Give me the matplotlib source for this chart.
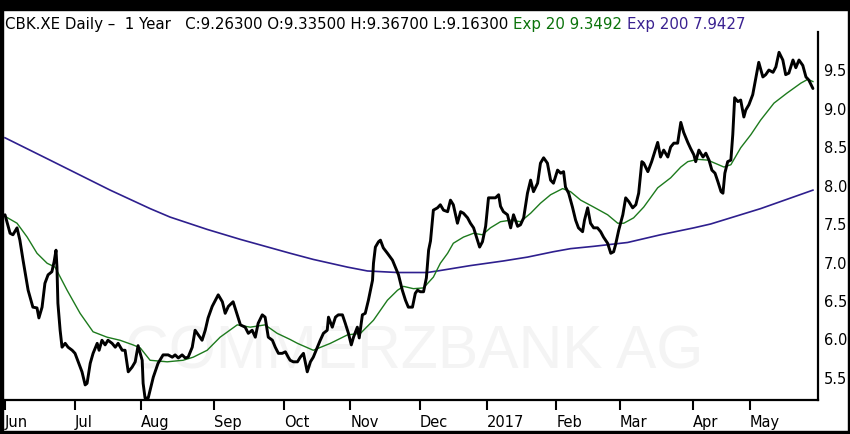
import matplotlib
matplotlib.use("Agg")
import matplotlib.pyplot as plt
import pandas as pd
from matplotlib.patches import Rectangle

# ---------------- data ----------------
title_text = "CBK.XE Daily \u2013  1 Year   C:9.26300 O:9.33500 H:9.36700 L:9.16300"
ema20_label = "Exp 20 9.3492"
ema200_label = "Exp 200 7.9427"
watermark = "COMMERZBANK AG"

# trading calendar (Xetra), one point per trading day index
start_date = "2016-06-01"
end_date = "2017-05-30"
holidays = ["2016-12-26", "2017-04-14", "2017-04-17", "2017-05-01"]

# close price (trading-day index, value)
price_day = [0.0, 0.6, 1.6, 2.5, 3.8, 4.7, 5.7, 7.3, 8.8, 10.1, 10.7, 11.7, 12.6, 13.6, 14.8,
             15.5, 16.1, 16.4, 16.7, 17.4, 18.0, 19.0, 19.9, 21.2, 22.1, 23.1, 24.3, 25.3, 25.9,
             26.9, 27.8, 29.1, 29.7, 30.6, 31.6, 32.5, 33.8, 34.8, 35.7, 37.0, 37.9, 38.9, 40.1,
             41.1, 42.0, 43.3, 43.6, 44.2, 45.2, 46.8, 48.3, 49.9, 51.5, 52.8, 53.7, 54.7, 55.9,
             56.9, 57.8, 59.1, 60.0, 61.0, 62.2, 63.2, 64.1, 65.4, 66.4, 67.3, 68.6, 69.5, 70.5,
             72.0, 73.3, 74.3, 75.8, 76.8, 78.0, 79.0, 79.9, 81.2, 82.1, 83.1, 84.4, 85.3, 86.3,
             87.5, 88.5, 89.4, 90.0, 91.0, 92.3, 93.2, 94.2, 95.4, 96.4, 97.3, 98.6, 99.5, 100.5,
             101.7, 102.1, 103.3, 104.3, 105.2, 106.5, 107.4, 108.4, 109.3, 110.0, 111.2, 111.8,
             112.8, 113.7, 114.7, 116.0, 116.3, 116.9, 117.9, 118.5, 119.4, 120.7, 122.3, 123.2,
             124.2, 125.4, 126.4, 127.3, 128.6, 129.5, 130.2, 131.1, 132.1, 133.0, 133.7, 134.3,
             135.2, 136.5, 137.4, 138.4, 139.7, 140.6, 141.5, 142.8, 143.8, 144.7, 146.0, 146.9,
             147.9, 149.1, 149.8, 150.7, 151.7, 152.6, 153.9, 154.8, 155.8, 156.4, 157.3, 158.6,
             159.6, 160.5, 161.8, 162.7, 163.7, 164.9, 165.9, 166.8, 168.1, 169.0, 170.0, 171.2,
             172.2, 173.1, 174.4, 175.4, 176.3, 176.9, 177.9, 179.1, 180.1, 181.0, 182.3, 182.9,
             183.9, 184.8, 185.8, 187.0, 188.0, 188.9, 190.2, 191.2, 192.1, 192.7, 193.7, 195.0,
             195.9, 196.9, 198.1, 199.1, 200.0, 201.0, 201.6, 202.9, 204.1, 205.1, 206.0, 206.9,
             207.9, 209.2, 210.1, 211.1, 212.3, 213.3, 214.2, 215.5, 216.4, 217.4, 218.0, 219.0,
             220.3, 221.2, 222.2, 223.1, 224.1, 225.0, 226.0, 226.6, 227.2, 228.1, 229.1, 229.7,
             230.3, 231.3, 232.2, 233.2, 233.8, 234.8, 236.0, 237.0, 237.9, 239.2, 240.1, 241.1,
             242.4, 243.3, 244.3, 245.5, 246.4, 247.4, 248.7, 249.6, 250.6, 251.8, 252.8, 253.7,
             255.0]
price_close = [7.62, 7.53, 7.38, 7.36, 7.45, 7.29, 7.03, 6.64, 6.42, 6.41, 6.28, 6.42, 6.73, 6.84, 6.88,
               7.01, 7.16, 6.94, 6.47, 6.12, 5.90, 5.95, 5.90, 5.86, 5.82, 5.71, 5.58, 5.41, 5.43,
               5.69, 5.82, 5.95, 5.86, 5.99, 5.93, 5.99, 5.95, 5.90, 5.95, 5.86, 5.86, 5.58, 5.64,
               5.71, 5.92, 5.73, 5.43, 5.24, 5.24, 5.51, 5.69, 5.80, 5.80, 5.77, 5.80, 5.76, 5.80,
               5.76, 5.77, 5.90, 6.12, 6.06, 5.99, 6.12, 6.28, 6.43, 6.51, 6.58, 6.49, 6.34, 6.43,
               6.49, 6.32, 6.19, 6.16, 6.08, 6.12, 6.03, 6.21, 6.32, 6.29, 6.03, 5.99, 5.90, 5.82,
               5.82, 5.84, 5.77, 5.73, 5.71, 5.71, 5.77, 5.82, 5.58, 5.71, 5.77, 5.90, 5.99, 6.08,
               6.12, 6.29, 6.16, 6.29, 6.32, 6.32, 6.21, 6.08, 5.93, 6.03, 6.16, 6.02,
               6.32, 6.34, 6.51, 6.77, 6.99, 7.20, 7.27, 7.29, 7.19, 7.12, 7.03, 6.94,
               6.84, 6.64, 6.51, 6.42, 6.42, 6.60, 6.64, 6.62, 6.62, 6.80, 7.16, 7.28,
               7.68, 7.71, 7.75, 7.68, 7.66, 7.81, 7.75, 7.51, 7.66, 7.64, 7.58, 7.51,
               7.45, 7.29, 7.20, 7.27, 7.47, 7.84, 7.84, 7.84, 7.88, 7.73, 7.66, 7.62,
               7.45, 7.62, 7.47, 7.49, 7.58, 7.90, 8.07, 7.92, 8.03, 8.29, 8.36, 8.29,
               8.07, 8.03, 8.20, 8.16, 8.18, 7.98, 7.90, 7.72, 7.55, 7.45, 7.40, 7.55,
               7.71, 7.51, 7.45, 7.45, 7.40, 7.33, 7.25, 7.12, 7.14, 7.23, 7.42, 7.62,
               7.84, 7.79, 7.71, 7.75, 7.90, 8.31, 8.29, 8.18, 8.31, 8.44, 8.56, 8.37,
               8.46, 8.37, 8.50, 8.55, 8.55, 8.82, 8.69, 8.56, 8.48, 8.40, 8.31, 8.46,
               8.37, 8.42, 8.33, 8.20, 8.16, 8.05, 7.92, 7.90, 8.16, 8.31, 8.33, 8.66,
               9.14, 9.09, 9.11, 8.89, 8.98, 9.05, 9.18, 9.40, 9.60, 9.41, 9.44, 9.50,
               9.47, 9.54, 9.73, 9.63, 9.44, 9.46, 9.63, 9.53, 9.63, 9.56, 9.41, 9.37,
               9.26]

# 20-day exponential average
ema20_day = [0.0, 3.8, 7.0, 10.1, 13.3, 15.8, 19.6, 23.7, 27.8, 32.2, 36.3, 40.4, 42.7, 45.8,
             51.2, 56.2, 59.4, 63.8, 67.9, 73.3, 77.4, 82.1, 85.9, 90.0, 92.3, 97.3, 102.7,
             108.1, 112.2, 116.3, 120.7, 123.9, 125.8, 128.9, 132.1, 135.2, 137.4, 139.7, 141.5,
             144.7, 147.9, 150.7, 153.2, 156.4, 159.6, 162.7, 165.9, 169.0, 172.2, 176.0, 178.5,
             181.7, 185.8, 190.2, 193.4, 195.3, 198.4, 201.6, 206.0, 210.1, 213.3, 215.5, 218.6,
             221.8, 226.9, 229.1, 232.2, 235.4, 238.5, 242.7, 246.8, 251.2, 253.4, 255.0]
ema20_val = [7.60, 7.51, 7.33, 7.12, 6.99, 6.94, 6.64, 6.34, 6.10, 6.03, 5.99, 5.93, 5.89, 5.73,
             5.71, 5.73, 5.77, 5.86, 6.03, 6.19, 6.16, 6.19, 6.08, 6.00, 5.95, 5.86, 5.95,
             6.06, 6.08, 6.25, 6.51, 6.64, 6.69, 6.66, 6.67, 6.81, 6.99, 7.12, 7.25,
             7.33, 7.38, 7.36, 7.45, 7.53, 7.55, 7.53, 7.64, 7.77, 7.88, 7.96, 7.92,
             7.81, 7.72, 7.62, 7.51, 7.51, 7.58, 7.72, 7.97, 8.10, 8.24, 8.31, 8.34,
             8.33, 8.24, 8.27, 8.49, 8.66, 8.85, 9.07, 9.20, 9.33, 9.38, 9.35]

# 200-day exponential average
ema200_day = [0.0, 14.2, 33.2, 45.8, 52.1, 63.8, 74.3, 90.0, 97.3, 108.1, 114.4, 123.9, 133.3,
              136.5, 146.9, 157.3, 164.9, 173.1, 178.5, 185.8, 196.5, 206.9, 217.4, 222.7,
              238.5, 255.0]
ema200_val = [8.62, 8.33, 7.94, 7.70, 7.59, 7.43, 7.30, 7.12, 7.04, 6.94, 6.89, 6.87, 6.87,
              6.89, 6.96, 7.02, 7.07, 7.14, 7.18, 7.21, 7.26, 7.36, 7.45, 7.50,
              7.70, 7.94]

y_ticks = [5.5, 6.0, 6.5, 7.0, 7.5, 8.0, 8.5, 9.0, 9.5]

# ---------------- styling ----------------
W, H = 850, 434
GREEN = "#1d7a1d"
GREEN_TXT = "#0b730b"
PURPLE = "#2e1f8e"
PURPLE_TXT = "#3a2190"

plt.rcParams["font.family"] = ["DejaVu Sans"]

fig = plt.figure(figsize=(W / 100, H / 100), dpi=100)
ax = fig.add_axes([3 / W, 34 / H, 815 / W, 368 / H])

ax.plot(ema200_day, ema200_val, color=PURPLE, lw=1.2, zorder=2)
ax.plot(ema20_day, ema20_val, color=GREEN, lw=1.0, zorder=3)
ax.plot(price_day, price_close, color="black", lw=2.1, zorder=4,
        solid_joinstyle="round", solid_capstyle="round")

ax.set_xlim(-0.63, 256.6)
ax.set_ylim(5.214, 9.994)

# month ticks from trading calendar
days = pd.bdate_range(start_date, end_date)
days = days[~days.isin(pd.to_datetime(holidays))]
tick_pos, tick_lab = [], []
prev = None
for i, d in enumerate(days):
    if d.month != prev:
        tick_pos.append(i)
        tick_lab.append("2017" if d.month == 1 else d.strftime("%b"))
        prev = d.month
ax.set_xticks(tick_pos)
ax.set_xticklabels(tick_lab, ha="left", fontsize=10.5)
ax.tick_params(axis="x", direction="out", length=7, width=1.5, color="black", pad=4)

ax.yaxis.tick_right()
ax.set_yticks(y_ticks)
ax.set_yticklabels([f"{v:.1f}" for v in y_ticks], fontsize=10.5)
ax.tick_params(axis="y", length=0, pad=4)

for s in ["top", "left"]:
    ax.spines[s].set_visible(False)
for s in ["right", "bottom"]:
    ax.spines[s].set_linewidth(1.6)
    ax.spines[s].set_color("black")

fig.canvas.draw()
r = fig.canvas.get_renderer()

# faint watermark, sized to span the same width as in the reference
wm = ax.text(414 / W, 1 - 353 / H, watermark, transform=fig.transFigure, ha="center",
             va="center", fontsize=40, color="#f4f4f4", zorder=0,
             family=["Liberation Sans Narrow", "Liberation Sans", "DejaVu Sans"])
wbb = wm.get_window_extent(renderer=r)
wm.set_fontsize(40 * 577 / wbb.width)

# header
x0 = 5 / W
yb = 1 - 29 / H
parts = [(title_text + " ", "black"), (ema20_label + " ", GREEN_TXT), (ema200_label, PURPLE_TXT)]
for txt, col in parts:
    t = fig.text(x0, yb, txt, fontsize=10.8, color=col, ha="left", va="baseline")
    bb = t.get_window_extent(renderer=r)
    x0 = bb.x1 / W

# black screen-shot border
for (x, y, w, h) in [(0, 1 - 10 / H, 1, 10 / H), (0, 0, 3 / W, 1), (0, 0, 1, 3 / H),
                     (1 - 2 / W, 0, 2 / W, 1)]:
    fig.add_artist(Rectangle((x, y), w, h, transform=fig.transFigure, color="black", zorder=10))

fig.savefig("out.png", dpi=100)
